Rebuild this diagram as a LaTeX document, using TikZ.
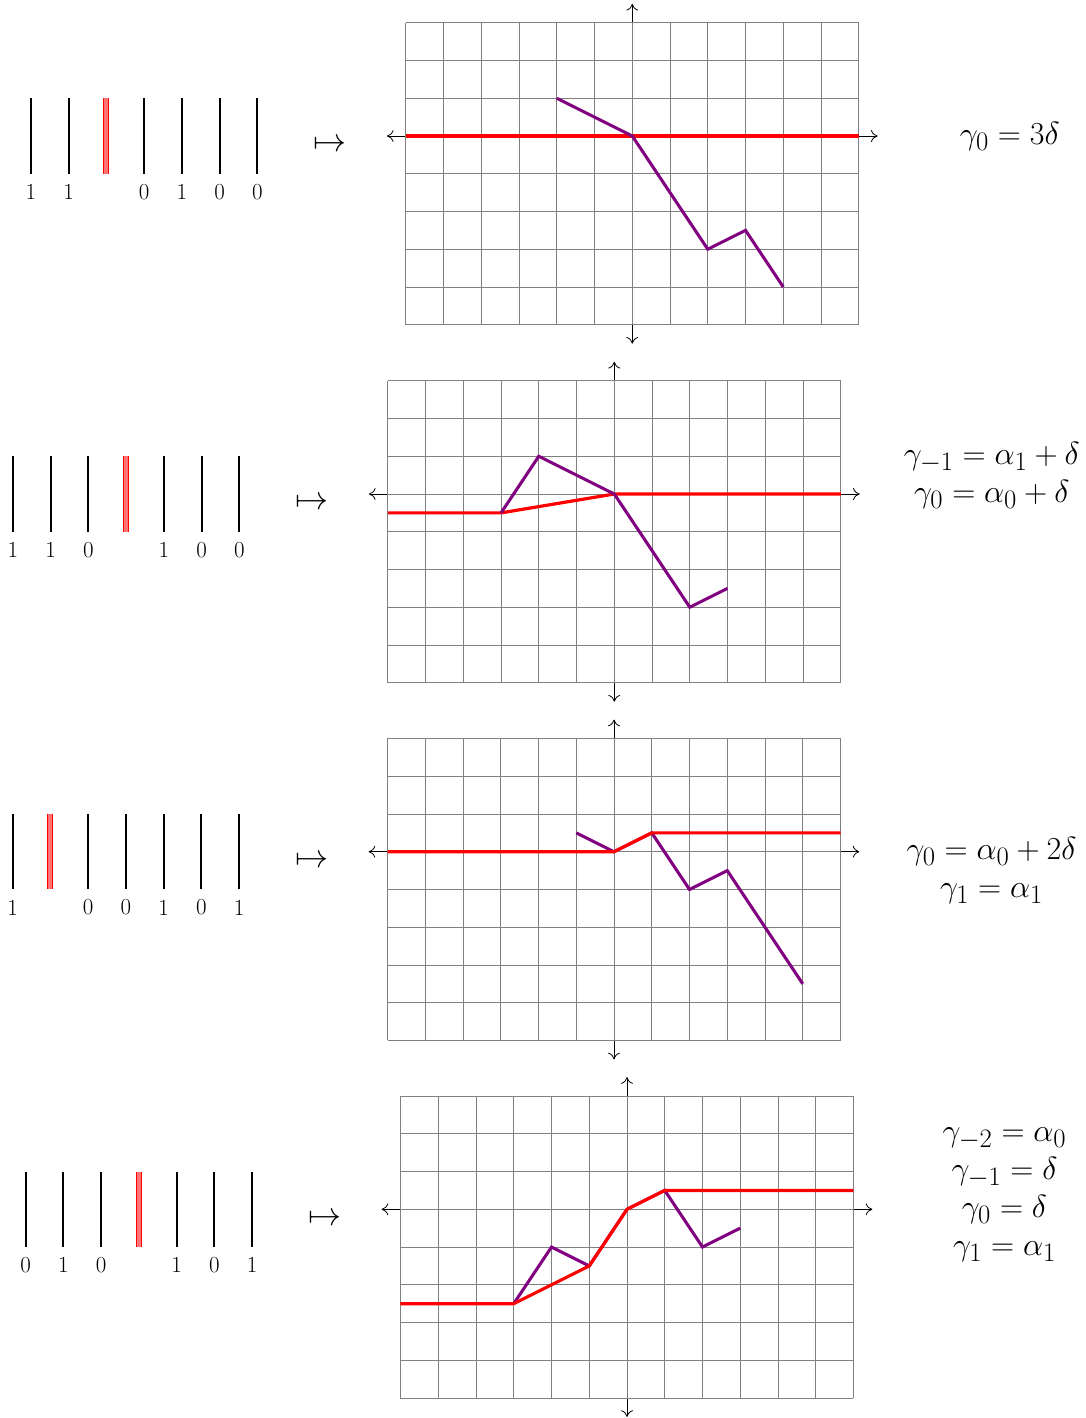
\documentclass[tikz,border=0pt]{standalone}
\usepackage{amsmath}
\usetikzlibrary{arrows.meta}
\tikzset{
  gridline/.style={gray, line width=0.6pt},
  axisline/.style={black, line width=0.6pt, {Computer Modern Rightarrow[length=5pt,width=9pt]}-{Computer Modern Rightarrow[length=5pt,width=9pt]}},
  redpath/.style={red, line width=2.4pt},
  purplepath/.style={violet, line width=2.3pt},
  barline/.style={black, line width=1.5pt},
  redbar/.style={draw=red, double=red!55, line width=0.7pt, double distance=3pt},
  digit/.style={font=\LARGE, inner sep=0pt},
  eqn/.style={font=\Huge, inner sep=0pt, anchor=base, scale=0.97},
  mapsym/.style={font=\Huge, inner sep=0pt, anchor=base},
}
\newcommand{\gridaxes}{%
  \draw[axisline] (-6.5,0) -- (6.5,0);
  \draw[axisline] (0,-5.5) -- (0,3.5);
  \draw[gridline] (-6,-5) grid (6,3);
}
% #1 prefix, #2 red index, #3 index/label list
\newcommand{\barsrow}[3]{%
  \foreach \k in {0,...,6}{%
    \ifnum\k=#2\relax
      \draw[redbar] (-15.93+\k,1) -- (-15.93+\k,-1);
    \else
      \draw[barline] (-15.93+\k,1) -- (-15.93+\k,-1);
    \fi
  }
  \foreach \k/\t in {#3}{\node[digit] (#1lab\k) at (-15.93+\k,-1.48) {\t};}
  \node[mapsym] (#1map) at (-8.01,-0.42) {$\mapsto$};
}
\begin{document}
\begin{tikzpicture}
\useasboundingbox (0,0) rectangle (28.742,-37.563);

% Row 1
\begin{scope}[shift={(16.749,-3.603)}]
  \barsrow{a}{2}{0/1,1/1,3/0,4/1,5/0,6/0}
  \gridaxes
  \draw[redpath] (-6,0) -- (6,0);
  \draw[purplepath] (-2,1) -- (0,0) -- (2,-3) -- (3,-2.5) -- (4,-4);
  \node[eqn] (ae0) at (10,-0.212) {$\gamma_0 = 3\delta$};
\end{scope}

% Row 2
\begin{scope}[shift={(16.273,-13.086)}]
  \barsrow{b}{3}{0/1,1/1,2/0,4/1,5/0,6/0}
  \gridaxes
  \draw[redpath] (-6,-0.5) -- (-3,-0.5) -- (0,0) -- (6,0);
  \draw[purplepath] (-3,-0.5) -- (-2,1) -- (0,0) -- (2,-3) -- (3,-2.5);
  \node[eqn] (be1) at (10,0.788) {$\gamma_{-1} = \alpha_1 + \delta$};
  \node[eqn] (be0) at (10,-0.212) {$\gamma_0 = \alpha_0 + \delta$};
\end{scope}

% Row 3
\begin{scope}[shift={(16.265,-22.562)}]
  \barsrow{c}{1}{0/1,2/0,3/0,4/1,5/0,6/1}
  \gridaxes
  \draw[purplepath] (-1,0.5) -- (0,0) -- (1,0.5) -- (2,-1) -- (3,-0.5) -- (5,-3.5);
  \draw[redpath] (-6,0) -- (0,0) -- (1,0.5) -- (6,0.5);
  \node[eqn] (ce0) at (10,-0.212) {$\gamma_0 = \alpha_0 + 2\delta$};
  \node[eqn] (ce1) at (10,-1.212) {$\gamma_1 = \alpha_1$};
\end{scope}

% Row 4
\begin{scope}[shift={(16.609,-32.034)}]
  \barsrow{d}{3}{0/0,1/1,2/0,4/1,5/0,6/1}
  \gridaxes
  \draw[purplepath] (-3,-2.5) -- (-2,-1) -- (-1,-1.5) -- (0,0) -- (1,0.5) -- (2,-1) -- (3,-0.5);
  \draw[redpath] (-6,-2.5) -- (-3,-2.5) -- (-1,-1.5) -- (0,0) -- (1,0.5) -- (6,0.5);
  \node[eqn] (de2) at (10,1.788) {$\gamma_{-2} = \alpha_0$};
  \node[eqn] (de1) at (10,0.788) {$\gamma_{-1} = \delta$};
  \node[eqn] (de0) at (10,-0.212) {$\gamma_0 = \delta$};
  \node[eqn] (dem) at (10,-1.212) {$\gamma_1 = \alpha_1$};
\end{scope}
\end{tikzpicture}
\end{document}
